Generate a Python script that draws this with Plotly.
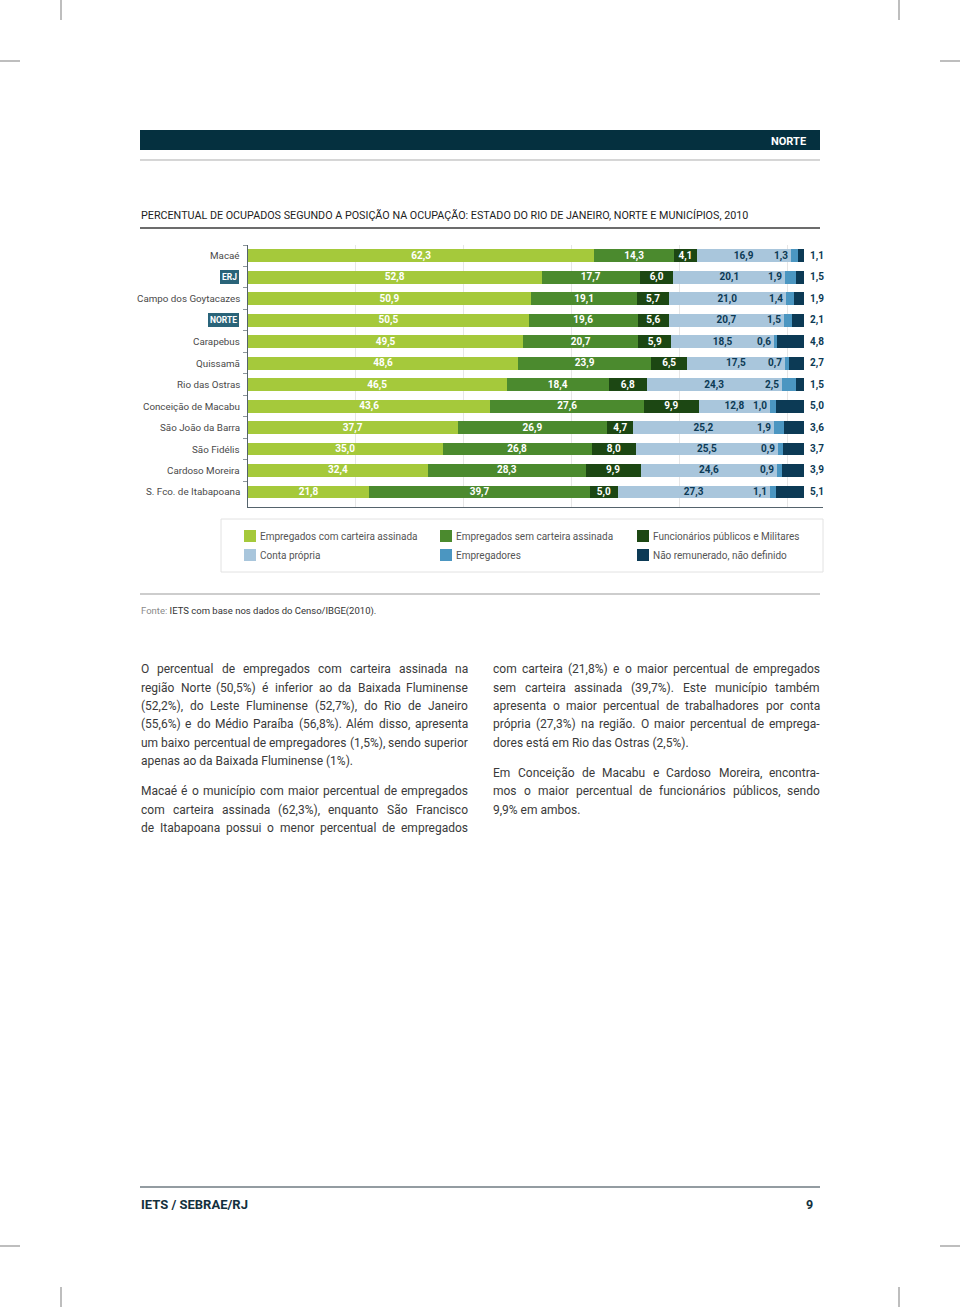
import unicodedata
import plotly.graph_objects as go

W, H = 960, 1307

categories = ["Macaé", "ERJ", "Campo dos Goytacazes", "NORTE", "Carapebus", "Quissamã",
              "Rio das Ostras", "Conceição de Macabu", "São João da Barra", "São Fidélis",
              "Cardoso Moreira", "S. Fco. de Itabapoana"]
com_carteira = [62.3, 52.8, 50.9, 50.5, 49.5, 48.6, 46.5, 43.6, 37.7, 35.0, 32.4, 21.8]
sem_carteira = [14.3, 17.7, 19.1, 19.6, 20.7, 23.9, 18.4, 27.6, 26.9, 26.8, 28.3, 39.7]
funcionarios = [4.1, 6.0, 5.7, 5.6, 5.9, 6.5, 6.8, 9.9, 4.7, 8.0, 9.9, 5.0]
conta_propria = [16.9, 20.1, 21.0, 20.7, 18.5, 17.5, 24.3, 12.8, 25.2, 25.5, 24.6, 27.3]
empregadores = [1.3, 1.9, 1.4, 1.5, 0.6, 0.7, 2.5, 1.0, 1.9, 0.9, 0.9, 1.1]
nao_remunerado = [1.1, 1.5, 1.9, 2.1, 4.8, 2.7, 1.5, 5.0, 3.6, 3.7, 3.9, 5.1]

series_names = ["Empregados com carteira assinada", "Empregados sem carteira assinada",
                "Funcionários públicos e Militares", "Conta própria", "Empregadores",
                "Não remunerado, não definido"]
colors = ["#a5c93b", "#4b8a2e", "#1c4713", "#a9c6dc", "#4b96c1", "#0c3a55"]
badges = {"ERJ", "NORTE"}

FONT = "Roboto"
NAVY = "#0c3a55"


def px(x):
    return x / W


def py(y):
    return 1 - y / H


series = [com_carteira, sem_carteira, funcionarios, conta_propria, empregadores, nao_remunerado]
fig = go.Figure()
for i, (vals, name, col) in enumerate(zip(series, series_names, colors)):
    show_text = i < 4
    fig.add_trace(go.Bar(
        y=categories, x=vals, orientation="h", name=name,
        marker=dict(color=col, line=dict(width=0)),
        width=0.6,
        texttemplate="<b>%{x:.1f}</b>" if show_text else None,
        textposition="inside" if show_text else "none",
        insidetextanchor="middle",
        textangle=0,
        textfont=dict(family=FONT, size=10, color=(NAVY if i == 3 else "white")),
        hoverinfo="skip",
        showlegend=False,
    ))

annotations = []
shapes = []


def ann(x, y, text, size, color, xanchor="left", xref="paper", yref="paper", **kw):
    d = dict(x=x, y=y, xref=xref, yref=yref, xanchor=xanchor, yanchor="middle",
             text=text, showarrow=False, borderpad=0, borderwidth=0,
             font=dict(family=FONT, size=size, color=color))
    d.update(kw)
    annotations.append(d)


# labels for Empregadores (left of segment) and Não remunerado (outside right)
for k, cat in enumerate(categories):
    end_cp = com_carteira[k] + sem_carteira[k] + funcionarios[k] + conta_propria[k]
    ann(end_cp, cat, f"<b>{empregadores[k]:.1f}</b>".replace(".", ","), 10, NAVY,
        xanchor="right", xref="x", yref="y", xshift=-3)
    total = end_cp + empregadores[k] + nao_remunerado[k]
    ann(total, cat, f"<b>{nao_remunerado[k]:.1f}</b>".replace(".", ","), 10, NAVY,
        xanchor="left", xref="x", yref="y", xshift=6)
    if cat in badges:
        ann(px(239), cat, f"<b>{cat}</b>", 8.5, "white", xanchor="right", yref="y",
            bgcolor="#2a6479", borderpad=2)
    else:
        ann(px(240), cat, cat, 9.8, "#4a4a4a", xanchor="right", yref="y")

# header band
shapes.append(dict(type="rect", xref="paper", yref="paper", x0=px(140), x1=px(820),
                   y0=py(150), y1=py(130), fillcolor="#05303f", line=dict(width=0)))
ann(px(806), py(141), "<b>NORTE</b>", 11, "white", xanchor="right")
shapes.append(dict(type="line", xref="paper", yref="paper", x0=px(140), x1=px(820),
                   y0=py(160), y1=py(160), line=dict(color="#c9c9c9", width=1.5)))

# title
ann(px(141), py(215),
    "PERCENTUAL DE OCUPADOS SEGUNDO A POSIÇÃO NA OCUPAÇÃO: ESTADO DO RIO DE JANEIRO, NORTE E MUNICÍPIOS, 2010",
    10.75, "#1d1d1d")
shapes.append(dict(type="line", xref="paper", yref="paper", x0=px(140), x1=px(820),
                   y0=py(228), y1=py(228), line=dict(color="#3b3b3b", width=1.5)))

# legend
shapes.append(dict(type="rect", xref="paper", yref="paper", x0=px(221), x1=px(823),
                   y0=py(572), y1=py(519), line=dict(color="#e2e2e2", width=1)))
leg_x = [244, 440, 637]
leg_y = [536, 555]
for i, (name, col) in enumerate(zip(series_names, colors)):
    lx = leg_x[i % 3]
    ly = leg_y[i // 3]
    shapes.append(dict(type="rect", xref="paper", yref="paper", x0=px(lx), x1=px(lx + 12),
                       y0=py(ly + 6), y1=py(ly - 6), fillcolor=col, line=dict(width=0)))
    ann(px(lx + 16), py(ly), name, 10, "#555555")

# source
shapes.append(dict(type="line", xref="paper", yref="paper", x0=px(140), x1=px(820),
                   y0=py(594), y1=py(594), line=dict(color="#bdbdbd", width=1.5)))
ann(px(141), py(611),
    "<span style='color:#8a8a8a'>Fonte:</span> IETS com base nos dados do Censo/IBGE(2010).",
    9.5, "#333333")

# body text (justified columns)
left_lines = [
    "O percentual de empregados com carteira assinada na",
    "região Norte (50,5%) é inferior ao da Baixada Fluminense",
    "(52,2%), do Leste Fluminense (52,7%), do Rio de Janeiro",
    "(55,6%) e do Médio Paraíba (56,8%). Além disso, apresenta",
    "um baixo percentual de empregadores (1,5%), sendo superior",
    "apenas ao da Baixada Fluminense (1%).",
    "Macaé é o município com maior percentual de empregados",
    "com carteira assinada (62,3%), enquanto São Francisco",
    "de Itabapoana possui o menor percentual de empregados",
]
left_y = [669, 687.5, 706, 724, 742.5, 761, 791, 809.5, 828]
left_just = [True, True, True, True, True, False, True, True, True]
right_lines = [
    "com carteira (21,8%) e o maior percentual de empregados",
    "sem carteira assinada (39,7%). Este município também",
    "apresenta o maior percentual de trabalhadores por conta",
    "própria (27,3%) na região. O maior percentual de emprega-",
    "dores está em Rio das Ostras (2,5%).",
    "Em Conceição de Macabu e Cardoso Moreira, encontra-",
    "mos o maior percentual de funcionários públicos, sendo",
    "9,9% em ambos.",
]
right_y = [669, 687.5, 706, 724, 742.5, 773, 791, 809.5]
right_just = [True, True, True, True, False, True, True, False]

# approximate glyph advance widths (em) for layout of justified text
_LOW = dict(a=0.544, b=0.561, c=0.523, d=0.563, e=0.529, f=0.347, g=0.561, h=0.551, i=0.243,
            j=0.239, k=0.507, l=0.243, m=0.876, n=0.552, o=0.570, p=0.561, q=0.567, r=0.338,
            s=0.516, t=0.327, u=0.551, v=0.484, w=0.751, x=0.496, y=0.473, z=0.496)
_UP = dict(A=0.652, B=0.623, C=0.651, D=0.656, E=0.568, F=0.553, G=0.681, H=0.713, I=0.272,
           J=0.552, K=0.627, L=0.539, M=0.873, N=0.713, O=0.688, P=0.631, Q=0.688, R=0.616,
           S=0.595, T=0.597, U=0.649, V=0.636, W=0.887, X=0.627, Y=0.601, Z=0.599)
_OTHER = {"(": 0.342, ")": 0.348, "%": 0.733, ",": 0.196, ".": 0.263, "-": 0.276, " ": 0.248}


def est_width(s, size):
    tot = 0.0
    for ch in s:
        base = unicodedata.normalize("NFD", ch)[0]
        if base in _LOW:
            tot += _LOW[base]
        elif base in _UP:
            tot += _UP[base]
        elif base.isdigit():
            tot += 0.562
        else:
            tot += _OTHER.get(base, 0.5)
    return tot * size


BODY_SIZE = 12
COL_W = 327
CAL = 325.0 / est_width(left_lines[4], BODY_SIZE)


def place_column(lines, ys, just, x0):
    for t, yy, j in zip(lines, ys, just):
        if not j:
            ann(px(x0), py(yy), t, BODY_SIZE, "#3a3a3a")
            continue
        words = t.split(" ")
        widths = [est_width(w, BODY_SIZE) * CAL for w in words]
        gap = (COL_W - sum(widths)) / (len(words) - 1)
        xx = x0
        for n, (w, wd) in enumerate(zip(words, widths)):
            if n == len(words) - 1:
                ann(px(x0 + COL_W), py(yy), w, BODY_SIZE, "#3a3a3a", xanchor="right")
            else:
                ann(px(xx), py(yy), w, BODY_SIZE, "#3a3a3a")
            xx += wd + gap


place_column(left_lines, left_y, left_just, 141)
place_column(right_lines, right_y, right_just, 493)

# footer
shapes.append(dict(type="line", xref="paper", yref="paper", x0=px(140), x1=px(820),
                   y0=py(1187), y1=py(1187), line=dict(color="#6f7b82", width=1.5)))
ann(px(141), py(1204), "<b>IETS / SEBRAE/RJ</b>", 13, "#13303d")
ann(px(813), py(1204), "<b>9</b>", 12.5, "#13303d", xanchor="right")

# crop marks
crop = "#a8a8a8"
for (x0, y0, x1, y1) in [(61, 0, 61, 20), (0, 61, 20, 61), (899, 0, 899, 20), (940, 61, 960, 61),
                         (61, 1287, 61, 1307), (0, 1246, 20, 1246), (899, 1287, 899, 1307),
                         (940, 1246, 960, 1246)]:
    shapes.append(dict(type="line", xref="paper", yref="paper", x0=px(x0), x1=px(x1),
                       y0=py(y0), y1=py(y1), line=dict(color=crop, width=1.5)))

fig.update_layout(
    width=W, height=H, margin=dict(l=0, r=0, t=0, b=0),
    paper_bgcolor="white", plot_bgcolor="white",
    barmode="stack", bargap=0.4,
    separators=", ",
    showlegend=False,
    uniformtext=dict(minsize=10, mode="show"),
    font=dict(family=FONT),
    xaxis=dict(domain=[px(248), px(823)], range=[0, 103.4], showticklabels=False,
               showgrid=True, gridcolor="#e6e6e6", gridwidth=1, tick0=0, dtick=19.4,
               zeroline=False, showline=True, linecolor="#55636c", linewidth=1.2,
               ticks="", fixedrange=True),
    yaxis=dict(domain=[py(507), py(245)], type="category", categoryorder="array",
               categoryarray=categories, range=[11.7, -0.5], showticklabels=False,
               showgrid=False, showline=True, linecolor="#55636c", linewidth=1.2,
               ticks="outside", ticklen=4, tickcolor="#8c969c", tickson="boundaries",
               zeroline=False, fixedrange=True),
    annotations=annotations,
    shapes=shapes,
)

fig.write_html("out.html")
